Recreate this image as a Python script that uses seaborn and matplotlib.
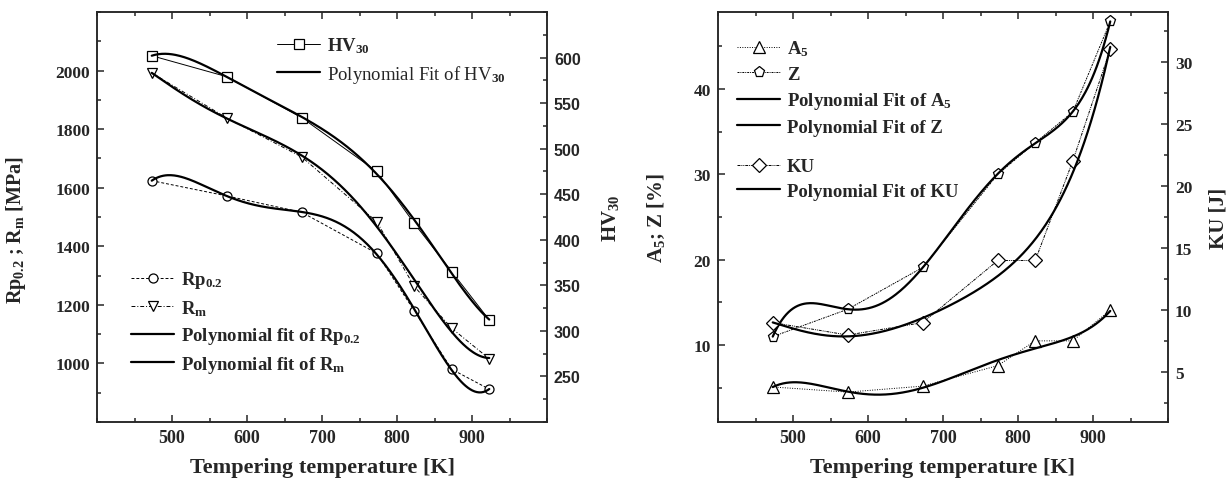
import numpy as np
import matplotlib
matplotlib.use("Agg")
import matplotlib.pyplot as plt
from matplotlib.ticker import MultipleLocator
import seaborn as sns

# tempering temperatures [K]
temps = [473, 573, 673, 773, 823, 873, 923]

# left panel: strength (MPa) and hardness
rp02 = [1624, 1572, 1516, 1376, 1180, 980, 912]
rm = [1992, 1838, 1705, 1484, 1263, 1120, 1016]
hv30 = [602, 579, 534, 475, 418, 365, 312]

# right panel: elongation, reduction of area (%) and impact energy (J)
a5 = [5.1, 4.5, 5.2, 7.6, 10.5, 10.5, 14.1]
z = [11.0, 14.2, 19.1, 30.0, 33.7, 37.3, 47.9]
ku = [9.0, 8.0, 9.0, 14.0, 14.0, 22.0, 31.0]

fit_deg = 5

sns.set_style("ticks")
plt.rcParams["font.family"] = ["Liberation Serif", "DejaVu Serif"]
plt.rcParams["font.weight"] = "bold"
plt.rcParams["mathtext.fontset"] = "custom"
plt.rcParams["mathtext.rm"] = "Liberation Serif"
plt.rcParams["mathtext.bf"] = "Liberation Serif:bold"
plt.rcParams["mathtext.it"] = "Liberation Serif:italic"
plt.rcParams["axes.linewidth"] = 1.1

fig = plt.figure(figsize=(12.32, 4.85), dpi=100)
ax_l = fig.add_axes([97 / 1232, 62 / 485, 450 / 1232, 410 / 485])
ax_r = fig.add_axes([718 / 1232, 62 / 485, 450 / 1232, 410 / 485])
ax_l2 = ax_l.twinx()
ax_r2 = ax_r.twinx()

x_fit = np.linspace(min(temps), max(temps), 300)


def poly(y):
    return np.polyval(np.polyfit(temps, y, fit_deg), x_fit)


def data_line(ax, y, marker, ls, ms, label):
    sns.lineplot(x=temps, y=y, ax=ax, color="k", lw=0.7, linestyle=ls,
                 marker=marker, ms=ms, mfc="white", mec="k", mew=0.9,
                 label=label, legend=False)
    return ax.lines[-1]


def fit_line(ax, y, label):
    sns.lineplot(x=x_fit, y=poly(y), ax=ax, color="k", lw=1.6,
                 label=label, legend=False)
    return ax.lines[-1]


# ---- left panel ----
h_rp = data_line(ax_l, rp02, "o", (0, (3, 2)), 6.5, r"Rp$_{\mathbf{0.2}}$")
h_rm = data_line(ax_l, rm, "v", (0, (4, 2, 1, 2)), 7, r"R$_{\mathbf{m}}$")
f_rp = fit_line(ax_l, rp02, r"Polynomial fit of Rp$_{\mathbf{0.2}}$")
f_rm = fit_line(ax_l, rm, r"Polynomial fit of R$_{\mathbf{m}}$")
h_hv = data_line(ax_l2, hv30, "s", "-", 6.5, r"HV$_{\mathbf{30}}$")
f_hv = fit_line(ax_l2, hv30, r"Polynomial Fit of HV$_{30}$")

# ---- right panel ----
h_a5 = data_line(ax_r, a5, "^", (0, (1, 1.5)), 8, r"A$_{\mathbf{5}}$")
h_z = data_line(ax_r, z, "p", (0, (2, 1, 1, 1)), 8, "Z")
f_a5 = fit_line(ax_r, a5, r"Polynomial Fit of A$_{\mathbf{5}}$")
f_z = fit_line(ax_r, z, "Polynomial Fit of Z")
h_ku = data_line(ax_r2, ku, "D", (0, (3, 1, 1, 1, 1, 1)), 7, "KU")
f_ku = fit_line(ax_r2, ku, "Polynomial Fit of KU")

for ax in (ax_l, ax_r):
    ax.set_xlim(400, 1000)
    ax.set_xticks([500, 600, 700, 800, 900])
    ax.xaxis.set_minor_locator(MultipleLocator(50))
    ax.tick_params(axis="x", which="both", direction="in", top=True, bottom=True)
    ax.tick_params(axis="y", which="both", direction="in", left=True, right=False)
    ax.tick_params(which="major", length=5, width=1.1, pad=5)
    ax.tick_params(which="minor", length=3, width=1.1)
    ax.tick_params(axis="x", labelsize=13)
    ax.tick_params(axis="y", labelsize=12.5)
    ax.set_xlabel("Tempering temperature [K]", fontsize=16, fontweight="bold", labelpad=8)

for ax in (ax_l2, ax_r2):
    ax.tick_params(axis="y", which="both", direction="in", right=True, left=False)
    ax.tick_params(which="major", length=5, width=1.1, pad=5, labelsize=12.5)
    ax.tick_params(which="minor", length=3, width=1.1)

ax_l.set_ylim(800, 2200)
ax_l.set_yticks([1000, 1200, 1400, 1600, 1800, 2000])
ax_l.yaxis.set_minor_locator(MultipleLocator(100))
ax_l.set_ylabel(r"Rp$_{\mathbf{0.2}}$ ; R$_{\mathbf{m}}$ [MPa]", fontsize=14.5, fontweight="bold")
ax_l.yaxis.set_label_coords(-0.153, 0.47)

ax_l2.set_ylim(200, 650)
ax_l2.set_yticks([250, 300, 350, 400, 450, 500, 550, 600])
ax_l2.yaxis.set_minor_locator(MultipleLocator(25))
ax_l2.tick_params(axis="y", labelsize=11.5, labelfontfamily="Liberation Sans")
for t in ax_l2.yaxis.get_major_ticks():
    t.label2.set_fontfamily(["Liberation Sans"])
    t.label2.set_fontsize(11.5)
ax_l2.set_ylabel(r"HV$_{\mathbf{30}}$", fontsize=15, fontweight="bold")
ax_l2.yaxis.set_label_coords(1.118, 0.5)

ax_r.set_ylim(1, 49)
ax_r.set_yticks([10, 20, 30, 40])
ax_r.yaxis.set_minor_locator(MultipleLocator(5))
ax_r.set_ylabel(r"A$_{\mathbf{5}}$; Z [%]", fontsize=15, fontweight="bold")
ax_r.yaxis.set_label_coords(-0.113, 0.5)

ax_r2.set_ylim(1, 34)
ax_r2.set_yticks([5, 10, 15, 20, 25, 30])
ax_r2.yaxis.set_minor_locator(MultipleLocator(2.5))
ax_r2.set_ylabel("KU [J]", fontsize=15, fontweight="bold")
ax_r2.yaxis.set_label_coords(1.089, 0.5)

leg_kw = dict(frameon=False, fontsize=13.5, handlelength=2.3, handletextpad=0.35,
              borderpad=0, borderaxespad=0, labelspacing=0.4)

leg1 = fig.legend([h_hv, f_hv], [h_hv.get_label(), f_hv.get_label()],
                  loc="center left", bbox_to_anchor=(277 / 1232, 1 - 61 / 485), **leg_kw)
leg1.get_texts()[1].set_fontweight("normal")

fig.legend([h_rp, h_rm, f_rp, f_rm], [h.get_label() for h in (h_rp, h_rm, f_rp, f_rm)],
           loc="center left", bbox_to_anchor=(131 / 1232, 1 - 323 / 485), **leg_kw)

fig.legend([h_a5, h_z, f_a5, f_z], [h.get_label() for h in (h_a5, h_z, f_a5, f_z)],
           loc="center left", bbox_to_anchor=(737 / 1232, 1 - 88 / 485), **leg_kw)
fig.legend([h_ku, f_ku], [h.get_label() for h in (h_ku, f_ku)],
           loc="center left", bbox_to_anchor=(737 / 1232, 1 - 180 / 485), **leg_kw)

fig.savefig("out.png", dpi=100)
